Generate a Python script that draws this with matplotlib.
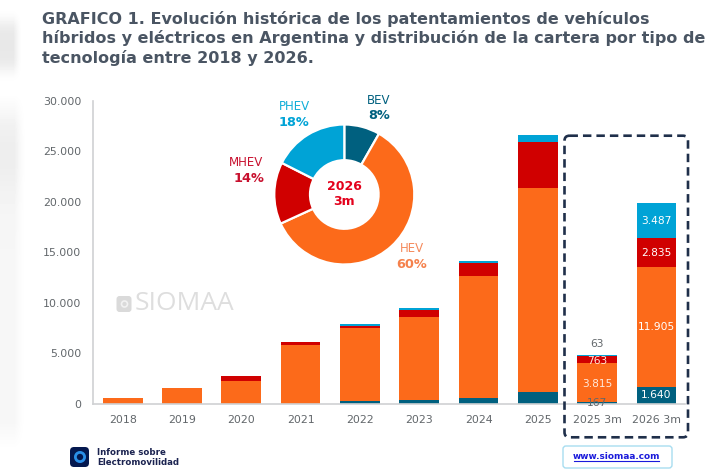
import numpy as np
import matplotlib
matplotlib.use("Agg")
import matplotlib.pyplot as plt
from matplotlib.patches import FancyBboxPatch, Circle
from matplotlib.lines import Line2D

# Registrations per year and technology
periods = ["2018", "2019", "2020", "2021", "2022", "2023", "2024", "2025", "2025 3m", "2026 3m"]
bev = [0, 0, 0, 0, 200, 320, 520, 1170, 167, 1640]
hev = [510, 1500, 2260, 5800, 7250, 8230, 12160, 20170, 3815, 11905]
mhev = [0, 0, 470, 330, 270, 720, 1250, 4590, 763, 2835]
phev = [0, 0, 0, 0, 160, 230, 230, 690, 63, 3487]
yticks = [0, 5000, 10000, 15000, 20000, 25000, 30000]

share_labels = ["BEV", "HEV", "MHEV", "PHEV"]
share_values = [1640, 11905, 2835, 3487]
share_text = ["8%", "60%", "14%", "18%"]

title_lines = [
    "GRAFICO 1. Evolución histórica de los patentamientos de vehículos",
    "híbridos y eléctricos en Argentina y distribución de la cartera por tipo de",
    "tecnología entre 2018 y 2026.",
]

C_BEV, C_HEV, C_MHEV, C_PHEV = "#00607F", "#FC6A1A", "#D00000", "#00A3D6"
GREY = "#62676B"
W, H = 711, 472


def fx(px):
    return px / W


def fy(py):
    return 1 - py / H


def thousands(v):
    return f"{v:,}".replace(",", ".")


fig = plt.figure(figsize=(W / 100, H / 100), dpi=100, facecolor="white")

# Soft grey shading along the left edge of the slide
bg = fig.add_axes([0, 0, 1, 1], zorder=0)
yy, xx = np.mgrid[0:H, 0:W]
edge = np.clip((26 - xx) / 12, 0, 1) ** 1.5
shade = 0.035 * edge * np.clip((yy - 95) / 30, 0, 1) * np.clip((450 - yy) / 30, 0, 1)
shade += 0.035 * edge * np.exp(-((yy - 155) / 40) ** 2)
shade += 0.09 * np.clip((22 - xx) / 9, 0, 1) ** 1.5 * np.exp(-((yy - 45) / 26) ** 4)
bg.imshow(1 - shade, cmap="gray", vmin=0, vmax=1, aspect="auto", interpolation="bilinear")
bg.axis("off")

# Stacked bars
ax = fig.add_axes([fx(93), fy(403.5), fx(685 - 93), (403.5 - 101) / H], zorder=1)
ax.patch.set_alpha(0)
x = np.arange(len(periods))
bottom = np.zeros(len(periods))
for vals, col in [(bev, C_BEV), (hev, C_HEV), (mhev, C_MHEV), (phev, C_PHEV)]:
    ax.bar(x, vals, width=0.67, bottom=bottom, color=col, linewidth=0, zorder=2)
    bottom += np.array(vals)

ax.set_xlim(-0.5, 9.48)
ax.set_ylim(0, 30000)
ax.set_xticks(x, periods)
ax.set_yticks(yticks, [thousands(v) for v in yticks])
ax.tick_params(length=0, labelsize=7.9, labelcolor=GREY)
ax.tick_params(axis="x", pad=8.5)
ax.tick_params(axis="y", pad=8.5)
for s in ("top", "right"):
    ax.spines[s].set_visible(False)
for s in ("left", "bottom"):
    ax.spines[s].set_color("#CFD1D3")
    ax.spines[s].set_linewidth(1.2)

# Value labels for the two quarterly bars
i25, i26 = 8, 9
cum = 0
for v in (bev[i26], hev[i26], mhev[i26], phev[i26]):
    ax.text(i26, cum + v / 2, thousands(v), color="white", ha="center", va="center", fontsize=7.7, zorder=4)
    cum += v
ax.text(i25, hev[i25] / 2, thousands(hev[i25]), color="#FFE9DC", ha="center", va="center", fontsize=7.7, zorder=4)
ax.text(i25, bev[i25] + hev[i25] + mhev[i25] / 2 - 150, thousands(mhev[i25]), color="#FFE9DC", ha="center", va="center", fontsize=7.7, zorder=4)
ax.text(i25, 0, thousands(bev[i25]), color=GREY, ha="center", va="center", fontsize=7.7, zorder=4)
ax.text(i25, sum(v[i25] for v in (bev, hev, mhev, phev)) + 620, thousands(phev[i25]), color=GREY,
        ha="center", va="bottom", fontsize=7.7, zorder=4)

# Donut with the technology split
cx, cy, r = 344.3, 194.5, 70
dax = fig.add_axes([fx(cx - r), fy(cy + r), 2 * r / W, 2 * r / H], zorder=3)
dax.pie(share_values, colors=[C_BEV, C_HEV, C_MHEV, C_PHEV], startangle=90, counterclock=False, radius=1,
        wedgeprops=dict(width=0.51, edgecolor="white", linewidth=1.6))
dax.set_xlim(-1, 1)
dax.set_ylim(-1, 1)

over = fig.add_axes([0, 0, 1, 1], zorder=5)
over.set_xlim(0, W)
over.set_ylim(H, 0)
over.axis("off")

name_pos = [(379, 100.5), (412, 249), (245.5, 163), (294, 106.5)]
pct_pos = [(379, 115.5), (412, 264), (249, 178), (294, 122.5)]
name_cols = ["#00607F", "#F58A5C", "#C8102E", "#10AED8"]
pct_cols = ["#00607F", "#F5814C", "#C8102E", "#00A3D6"]
for lab, pct, np_, pp, c1, c2 in zip(share_labels, share_text, name_pos, pct_pos, name_cols, pct_cols):
    over.text(*np_, lab, color=c1, ha="center", va="center", fontsize=8.5)
    over.text(*pp, pct, color=c2, ha="center", va="center", fontsize=9.3, fontweight="bold")
over.text(344.3, 187, "2026", color="#E3001B", ha="center", va="center", fontsize=9, fontweight="bold")
over.text(344.3, 201.7, "3m", color="#E3001B", ha="center", va="center", fontsize=9, fontweight="bold")

# Title
for line, yp in zip(title_lines, (19, 38, 57.5)):
    over.text(42.5, yp, line, color="#4A5563", ha="left", va="center", fontsize=11.5, fontweight="bold")

# Dashed frame around the quarterly bars
over.add_patch(FancyBboxPatch((564.5 + 4, 135.7 + 4), 123.5 - 8, 301.6 - 8,
                              boxstyle="round,pad=4,rounding_size=5", fill=False,
                              edgecolor="#1F2F4A", linewidth=1.9, linestyle=(0, (3.2, 1.9))))

# Website button
over.add_patch(FancyBboxPatch((566, 449), 103, 16, boxstyle="round,pad=3,rounding_size=3",
                              facecolor="white", edgecolor="#A8DDF0", linewidth=1))
over.text(616, 456.5, "www.siomaa.com", color="#1A1ADB", ha="center", va="center", fontsize=6.4, fontweight="bold")
over.add_line(Line2D([573.5, 659], [461, 461], color="#1A1ADB", linewidth=0.8))

# Report badge
over.add_patch(FancyBboxPatch((72, 449), 15, 16, boxstyle="round,pad=2,rounding_size=4",
                              facecolor="#04184F", edgecolor="none"))
over.add_patch(Circle((80, 457), 4.6, facecolor="none", edgecolor="#2A8FE8", linewidth=2))
over.text(97, 452.3, "Informe sobre", color="#1B2350", ha="left", va="center", fontsize=6.2, fontweight="bold")
over.text(97, 462.7, "Electromovilidad", color="#1B2350", ha="left", va="center", fontsize=6.2, fontweight="bold")

# Watermark
over.add_patch(FancyBboxPatch((118, 297.5), 12, 13, boxstyle="round,pad=1.5,rounding_size=3",
                              facecolor="#DADADA", edgecolor="none"))
over.add_patch(Circle((124.5, 304), 3, facecolor="none", edgecolor="#F2F2F2", linewidth=1.2))
over.text(134.5, 303.5, "SIOMAA", color="#DEDEDE", ha="left", va="center", fontsize=19, family="Open Sans")

fig.savefig("out.png", dpi=100)
